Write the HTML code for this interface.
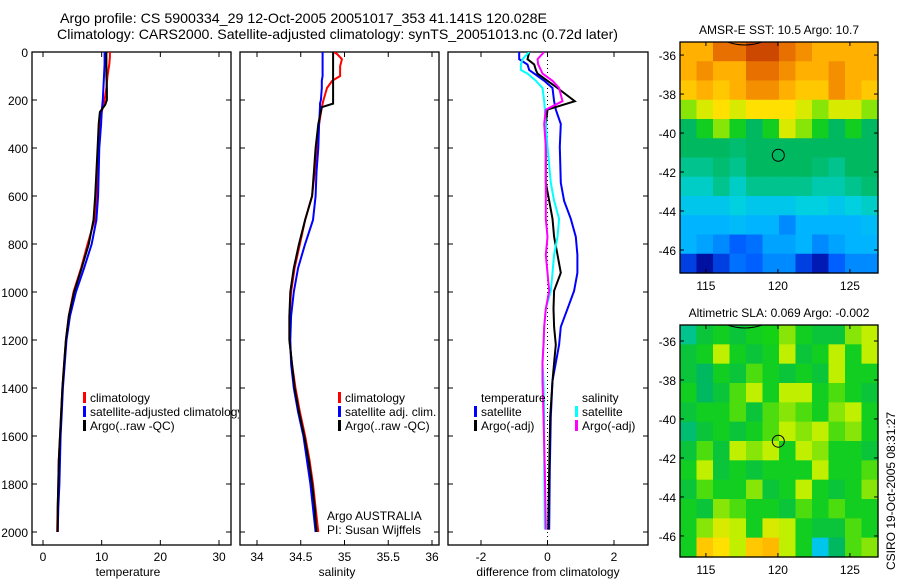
<!DOCTYPE html>
<html><head><meta charset="utf-8"><style>
html,body{margin:0;padding:0;background:#fff;}
svg{display:block;font-family:"Liberation Sans",Arial,sans-serif;}
</style></head><body>
<svg id="fig" width="900" height="580" viewBox="0 0 900 580" xmlns="http://www.w3.org/2000/svg">
<text x="60" y="23" font-size="14" textLength="487" lengthAdjust="spacingAndGlyphs">Argo profile: CS 5900334_29 12-Oct-2005 20051017_353 41.141S 120.028E</text>
<text x="57" y="39" font-size="14" textLength="561" lengthAdjust="spacingAndGlyphs">Climatology: CARS2000. Satellite-adjusted climatology: synTS_20051013.nc (0.72d later)</text>
<text x="0" y="0" font-size="12" transform="translate(895,570) rotate(-90)">CSIRO 19-Oct-2005 08:31:27</text>
<defs>
<clipPath id="c1"><rect x="32" y="52" width="207" height="494"/></clipPath>
<clipPath id="c2"><rect x="240" y="52" width="199" height="494"/></clipPath>
<clipPath id="c3"><rect x="448" y="52" width="200" height="494"/></clipPath>
</defs>
</svg>
<script>
// ---------- data ----------
const depthT = [0,20,50,100,150,200,220,250,300,400,500,600,700,800,900,1000,1100,1200,1300,1400,1500,1600,1700,1800,1900,2000];
const tempClim = [11.4,11.4,11.3,11.0,10.8,10.5,10.3,10.0,9.8,9.5,9.3,9.1,8.8,7.6,6.5,5.2,4.4,3.9,3.6,3.3,3.1,2.9,2.7,2.6,2.5,2.4];
const tempSat = [10.5,10.5,10.5,10.4,10.3,10.2,10.1,10.0,9.9,9.6,9.5,9.4,9.1,8.3,7.0,5.6,4.6,4.0,3.7,3.4,3.2,3.0,2.9,2.8,2.6,2.5];
const tempArgo = [10.8,10.8,10.8,10.8,10.9,10.9,10.6,9.7,9.5,9.3,9.1,8.9,8.6,7.8,6.6,5.3,4.4,3.9,3.6,3.3,3.1,2.9,2.7,2.6,2.5,2.5];
const depthS = [0,10,30,60,100,120,150,200,215,230,300,400,500,600,700,800,900,1000,1100,1200,1300,1400,1500,1600,1700,1800,1900,2000];
const salClim = [34.88,34.92,34.97,34.95,34.95,34.86,34.8,34.76,34.75,34.74,34.71,34.68,34.66,34.63,34.55,34.49,34.43,34.39,34.37,34.37,34.40,34.44,34.49,34.55,34.60,34.64,34.67,34.70];
const salSat = [34.75,34.75,34.75,34.75,34.75,34.74,34.74,34.73,34.72,34.72,34.71,34.70,34.68,34.67,34.64,34.55,34.47,34.42,34.39,34.38,34.39,34.42,34.47,34.53,34.57,34.61,34.64,34.67];
const salArgo = [34.87,34.87,34.87,34.87,34.87,34.87,34.87,34.87,34.87,34.74,34.70,34.67,34.65,34.63,34.55,34.48,34.42,34.38,34.37,34.37,34.40,34.43,34.48,34.54,34.59,34.63,34.66,34.68];
const depthD = [0,30,52,75,90,120,150,205,240,300,395,545,620,695,770,845,920,995,1070,1145,1220,1295,1370,1520,1740,1990];
const diffTempSat = [-0.85,-0.85,-0.6,-0.55,-0.4,-0.1,0.15,0.2,0.25,0.4,0.37,0.4,0.5,0.7,0.85,0.9,0.9,0.8,0.6,0.4,0.35,0.25,0.15,0.1,0.07,0.05];
const diffTempArgo = [-0.55,-0.6,-0.4,-0.35,-0.3,0.0,0.3,0.82,0.0,-0.05,-0.05,-0.05,0.05,0.15,0.2,0.3,0.4,0.2,0.18,0.2,0.25,0.2,0.15,0.08,0.05,0.02];
const diffSalSat = [-0.55,-0.75,-0.8,-0.8,-0.6,-0.35,-0.15,-0.1,-0.08,-0.05,0.0,0.1,0.2,0.35,0.3,0.2,0.15,0.1,-0.05,-0.1,-0.12,-0.15,-0.12,-0.1,-0.1,-0.08];
const diffSalArgo = [-0.1,-0.3,-0.28,-0.2,-0.15,0.15,0.35,0.45,-0.05,-0.1,-0.05,-0.05,-0.05,-0.05,0.0,-0.05,0.0,0.05,-0.05,-0.1,-0.12,-0.15,-0.15,-0.12,-0.08,-0.05];
const depthTicks = [0,200,400,600,800,1000,1200,1400,1600,1800,2000];
const tempTicks = [0,10,20,30];
const salTicks = [34,34.5,35,35.5,36];
const diffTicks = [-2,0,2];
const lonTicks = [115,120,125];
const latTicks = [-36,-38,-40,-42,-44,-46];
const sstGrid = [
[8,8,9,9,9.5,9.5,9,8.5,8,8,8,8],
[8,8.5,8,8,9,9,8.5,8,8,8.5,8,8],
[7.5,8,7.5,8,8.5,8.5,8,7.5,7.5,8.5,8,7.5],
[6,6.5,7,6.5,7,7,7,6.5,6,6.5,6.5,6],
[5,5.5,6,5.5,5,5.5,6.5,6,5.5,5,5.5,5],
[5,5,5,4.8,5,5,5,5,5,5,5,5],
[4.5,4.5,4.8,4.5,5,5,5,5,4.8,4.5,5,5],
[4,4,4.5,4,4.5,4.5,4.5,4.5,4.2,4.2,4.5,4.8],
[3.5,3.5,3.5,3.8,3.5,3.5,3.5,3.8,3.8,3.5,3.8,4],
[3,3,3,3.2,3,3,2.5,3,3,3,3,3.2],
[3,2.8,2.5,2,2.2,2.8,2.8,3,2.5,2.8,3,3],
[1.5,0.5,1.5,2.2,2,2.5,2.5,1.5,0.8,2,2.5,2.5]];
const slaGrid = [
[4.5,5.3,5.5,5.3,5.5,5.6,6,5.5,5.3,5.3,6,6.2],
[5.3,5.5,6.2,5.5,5.3,5.5,6.2,5.3,5.5,6.2,5.5,6.2],
[5.3,5,5.5,5.3,5.8,5.5,5.3,5.5,5.3,6.2,5.5,5.5],
[5.5,5,5.3,5.8,6.2,5.5,6.2,6.2,5.5,5.8,5.5,5.3],
[5.3,5.5,5.5,5.8,5.3,5.8,6,5.8,5.5,6,6.2,5.5],
[4.8,5.3,5.5,5.3,5.5,5.8,6.2,6,6.2,5.8,6,5.5],
[5.3,5.8,5.3,6.2,6,6.2,5.5,6.2,6,5.5,5.5,5.3],
[5.5,6.2,5.3,5.5,5.3,5.5,5.5,5.5,6.2,5.5,5.5,5.8],
[5.3,5.8,5.5,5.5,6,5.3,5.5,6.2,5.5,5.3,5.5,6],
[5.5,5.3,6,5.8,5.5,5.5,5.3,5.8,5.5,5.8,5.5,5.5],
[5.5,6,6.5,6.2,5.5,6.5,6.2,5.5,5.3,5.3,5.8,5.5],
[5.5,7.5,7,6.2,7.5,7.8,6.2,5.5,3.5,5,5.8,6]];
const floatLon = 120.028, floatLat = -41.141;

// ---------- helpers ----------
const NS = "http://www.w3.org/2000/svg";
const svg = document.getElementById('fig');
function mk(tag, attrs, parent){ const e=document.createElementNS(NS,tag); for(const k in attrs) e.setAttribute(k,attrs[k]); (parent||svg).appendChild(e); return e; }
const yTop=52, yBot=545, dMin=0;
const yD = d => yTop + (d-dMin)*0.24;
function lin(d0,d1,p0,p1){ return v => p0+(v-d0)*(p1-p0)/(d1-d0); }
const panels = [
 {name:'temperature', x0:32, x1:231, fx: lin(0,30,43,219), ticks:tempTicks, clip:'c1', label:'temperature', lx:128},
 {name:'salinity', x0:240, x1:439, fx: lin(34,36,257,432), ticks:salTicks, clip:'c2', label:'salinity', lx:337},
 {name:'difference', x0:448, x1:648, fx: lin(-2,2,481,614), ticks:diffTicks, clip:'c3', label:'difference from climatology', lx:548}
];

function drawAxes(p, idx){
  const g = mk('g',{});
  
  
  const fr = mk('rect',{x:p.x0,y:yTop,width:p.x1-p.x0,height:yBot-yTop,fill:'none',stroke:'#000','stroke-width':1.3},g);
  
  
  depthTicks.forEach(d=>{
    const y=yD(d);
    mk('line',{x1:p.x0,x2:p.x0+5,y1:y,y2:y,stroke:'#000'},g);
    mk('line',{x1:p.x1-5,x2:p.x1,y1:y,y2:y,stroke:'#000'},g);
    if(idx===0){ const t=mk('text',{x:p.x0-4,y:y+5,'font-size':12,'text-anchor':'end'},g); t.textContent=d;
      
       }
  });
  p.ticks.forEach(v=>{
    const x=p.fx(v);
    mk('line',{x1:x,x2:x,y1:yTop,y2:yTop+5,stroke:'#000'},g);
    mk('line',{x1:x,x2:x,y1:yBot-5,y2:yBot,stroke:'#000'},g);
    const t=mk('text',{x:x,y:561,'font-size':12,'text-anchor':'middle'},g); t.textContent=v;
    
    
  });
  const xl=mk('text',{x:p.lx,y:576,'font-size':12,'text-anchor':'middle'},g); xl.textContent=p.label;
  
  
}
function drawLine(p, depths, vals, color, name, w){
  const pts = depths.map((d,i)=>p.fx(vals[i]).toFixed(1)+','+yD(d).toFixed(1)).join(' ');
  const l = mk('polyline',{points:pts,fill:'none',stroke:color,'stroke-width':w||2,'clip-path':'url(#'+p.clip+')'});
  
  
}
panels.forEach((p,i)=>drawAxes(p,i));
const zl = mk('line',{x1:panels[2].fx(0),x2:panels[2].fx(0),y1:yTop,y2:yBot,stroke:'#000','stroke-dasharray':'1,3'});



drawLine(panels[0], depthT, tempClim, '#f00', 'temp-climatology-line');
drawLine(panels[0], depthT, tempSat, '#00f', 'temp-satellite-line');
drawLine(panels[0], depthT, tempArgo, '#000', 'temp-argo-line');
drawLine(panels[1], depthS, salClim, '#f00', 'sal-climatology-line');
drawLine(panels[1], depthS, salSat, '#00f', 'sal-satellite-line');
drawLine(panels[1], depthS, salArgo, '#000', 'sal-argo-line');
drawLine(panels[2], depthD, diffTempSat, '#00f', 'diff-temp-satellite-line');
drawLine(panels[2], depthD, diffTempArgo, '#000', 'diff-temp-argo-line');
drawLine(panels[2], depthD, diffSalSat, '#0ff', 'diff-sal-satellite-line');
drawLine(panels[2], depthD, diffSalArgo, '#f0f', 'diff-sal-argo-line');

function legend(x, y, color, text, clip, name){
  const g = mk('g', clip?{'clip-path':'url(#'+clip+')'}:{});
  
  
  if(color) mk('rect',{x:x-7,y:y-10,width:3,height:11,fill:color},g);
  const t = mk('text',{x:x,y:y,'font-size':12},g); t.textContent=text;
}
legend(90,402,'#f00','climatology','c1','legend-entry-climatology');
legend(90,416,'#00f','satellite-adjusted climatology','c1','legend-entry-satellite-adjusted');
legend(90,430,'#000','Argo(..raw -QC)','c1','legend-entry-argo');
legend(345,402,'#f00','climatology',null,'legend-entry-sal-climatology');
legend(345,416,'#00f','satellite adj. clim.',null,'legend-entry-sal-satellite');
legend(345,430,'#000','Argo(..raw -QC)',null,'legend-entry-sal-argo');
legend(481,402,null,'temperature',null,'legend-heading-temperature');
legend(481,416,'#00f','satellite',null,'legend-entry-diff-temp-satellite');
legend(481,430,'#000','Argo(-adj)',null,'legend-entry-diff-temp-argo');
legend(582,402,null,'salinity',null,'legend-heading-salinity');
legend(582,416,'#0ff','satellite',null,'legend-entry-diff-sal-satellite');
legend(582,430,'#f0f','Argo(-adj)',null,'legend-entry-diff-sal-argo');
legend(327,520,null,'Argo AUSTRALIA',null,'credit-argo-australia');
legend(327,534,null,'PI: Susan Wijffels',null,'credit-pi-name');

// ---------- maps ----------
const stops = [[0,[0,0,128]],[1,[0,32,192]],[2,[0,96,255]],[3,[0,180,255]],[3.8,[0,208,224]],[4.3,[0,200,160]],[5,[0,184,96]],[5.6,[20,210,20]],[6.2,[192,240,0]],[7,[255,224,0]],[8,[255,176,0]],[9,[232,112,0]],[10,[176,32,0]]];
function cmap(v){
  for(let i=0;i<stops.length-1;i++){
    const [a,ca]=stops[i],[b,cb]=stops[i+1];
    if(v<=b){ const t=Math.max(0,(v-a)/(b-a)); return 'rgb('+ca.map((c,k)=>Math.round(c+(cb[k]-c)*t)).join(',')+')'; }
  }
  return 'rgb(176,32,0)';
}
const lonMin=113.2, lonMax=126.95;
function drawMap(grid, box, latTop, latBot, name, title){
  const fx = lin(lonMin, lonMax, box.x0, box.x1);
  const fy = lin(latTop, latBot, box.y0, box.y1);
  const g = mk('g',{});
  
  
  const nr=grid.length, nc=grid[0].length;
  const dLat=(latTop-latBot)/nr, dLon=(lonMax-lonMin)/nc;
  grid.forEach((row,r)=>row.forEach((v,c)=>{
    const x0=fx(lonMin+c*dLon), x1=fx(lonMin+(c+1)*dLon);
    const y0=fy(latTop-r*dLat), y1=fy(latTop-(r+1)*dLat);
    const cell=mk('rect',{x:x0,y:y0,width:x1-x0+0.6,height:y1-y0+0.6,fill:cmap(v)},g);
    
    
  }));
  const cy = box.y0;
  mk('path',{d:'M'+fx(116.5)+','+cy+' Q'+fx(117.7)+','+(cy+6)+' '+fx(118.9)+','+cy,fill:'none',stroke:'#000','stroke-width':1},g);
  mk('rect',{x:box.x0,y:box.y0,width:box.x1-box.x0,height:box.y1-box.y0,fill:'none',stroke:'#000','stroke-width':1.3},g);
  latTicks.forEach(l=>{ const y=fy(l);
    mk('line',{x1:box.x0,x2:box.x0+4,y1:y,y2:y,stroke:'#000'},g);
    mk('line',{x1:box.x1-4,x2:box.x1,y1:y,y2:y,stroke:'#000'},g);
    const t=mk('text',{x:box.x0-4,y:y+5,'font-size':12,'text-anchor':'end'},g); t.textContent=l;
    
    
  });
  lonTicks.forEach(l=>{ const x=fx(l);
    mk('line',{x1:x,x2:x,y1:box.y0,y2:box.y0+4,stroke:'#000'},g);
    mk('line',{x1:x,x2:x,y1:box.y1-4,y2:box.y1,stroke:'#000'},g);
    const t=mk('text',{x:x,y:box.y1+17,'font-size':12,'text-anchor':'middle'},g); t.textContent=l;
    
    
  });
  const c = mk('circle',{cx:fx(floatLon),cy:fy(floatLat),r:6,fill:'none',stroke:'#000','stroke-width':1},g);
  
  
  const t = mk('text',{x:(box.x0+box.x1)/2,y:box.y0-8,'font-size':12,'text-anchor':'middle'},g); t.textContent=title;
  
  
}
drawMap(sstGrid,{x0:680,x1:878,y0:42,y1:273},-35.33,-47.18,'sst-map','AMSR-E SST: 10.5 Argo: 10.7');
drawMap(slaGrid,{x0:680,x1:878,y0:325,y1:557},-35.18,-47.08,'sla-map','Altimetric SLA: 0.069 Argo: -0.002');
</script>
</body></html>
